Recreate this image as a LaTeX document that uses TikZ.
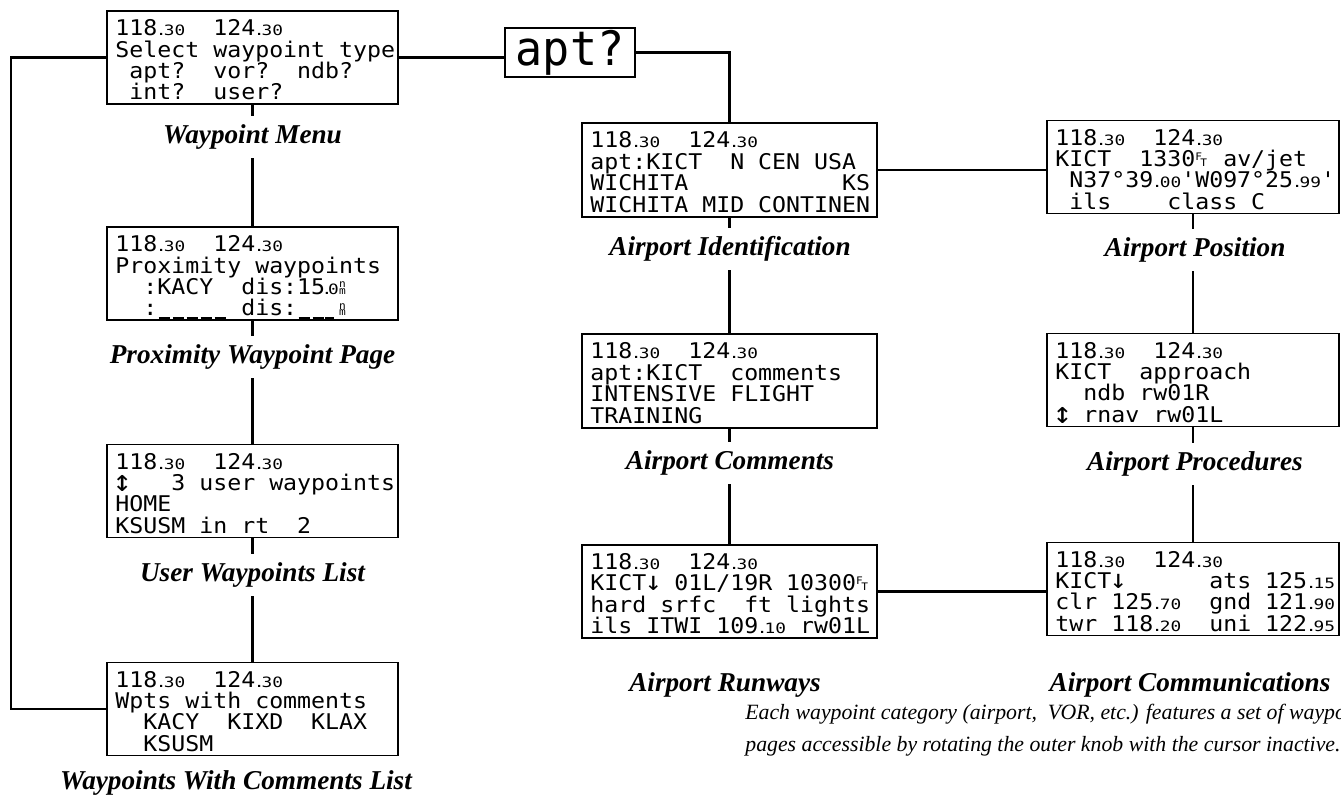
\documentclass[tikz,border=0pt]{standalone}
\usepackage{fontspec}
\setmainfont{Liberation Serif}
\newfontfamily\lcdfam[FakeStretch=1.075]{DejaVu Sans Mono}
\newfontfamily\lcdsfam[FakeStretch=1.25]{DejaVu Sans Mono}
\newfontfamily\lcdbfam[FakeStretch=0.95]{DejaVu Sans Mono}
\newcommand\lcd{\lcdfam\fontsize{12.3}{12.19}\selectfont}
\newcommand\lcds{\lcdsfam\fontsize{8.1}{8.5}\selectfont}
\newcommand\lcdt{\lcdfam\fontsize{5.9}{6}\selectfont}
\newlength\cw
\settowidth\cw{\lcd 0}
\newcommand\dd[1]{\makebox[2\cw][l]{\lcds\kern-0.1em.\kern-0.2em#1}}
\newcommand\dn[1]{\makebox[\cw][l]{\lcds\kern-0.25em.\kern-0.3em#1}}
\newcommand\ftu{\makebox[\cw][l]{\lcdt\raisebox{3.6pt}{F}\kern-0.15em T}}
\newcommand\nmu{\makebox[\cw][l]{\rlap{\lcdt\raisebox{3.8pt}{n}}\lcdt m}}
\newcommand\us{\makebox[\cw][c]{\rule[-1.8pt]{0.8\cw}{1.1pt}}}
\newcommand\uss{\makebox[\cw][l]{\rule[-1.8pt]{0.6\cw}{1.1pt}}}
\newcommand\udar{\makebox[\cw][c]{\fontsize{17}{12}\selectfont\lcdfam\raisebox{-0.5pt}{↕}}}
\newcommand\dnar{\makebox[\cw][c]{\fontsize{15}{12}\selectfont\lcdfam↓}}
\begin{document}
\begin{tikzpicture}[x=0.02cm,y=-0.02cm,
  box/.style={draw, line width=1.1pt, inner sep=0pt},
  lwide/.style={box, minimum width=5.82cm, minimum height=1.86cm},
  mwide/.style={box, minimum width=5.9cm, minimum height=1.87cm},
  rwide/.style={box, minimum width=5.84cm, minimum height=1.86cm},
  lcdtxt/.style={anchor=north west, inner sep=0pt, align=left, font=\lcd},
  lbl/.style={font=\fontsize{15.5}{18}\selectfont\bfseries\itshape, fill=white, inner xsep=3pt, inner ysep=5pt},
  captxt/.style={font=\fontsize{12.4}{14}\selectfont\itshape, inner sep=0pt, anchor=base west},
  conn/.style={line width=1.5pt}]
\useasboundingbox (0,0) rectangle (1341,803);

% boxes
\node[lwide] (menu) at (252.5,57.5) {};
\node[box, line width=1pt, minimum width=2.6cm, minimum height=0.98cm,
      font=\lcdbfam\fontsize{27}{30}\selectfont] (apt) at (570,52.5) {apt?};
\node[lwide] (prox) at (252.5,273.5) {};
\node[lwide] (user) at (252.5,491) {};
\node[lwide] (wpts) at (252.5,709) {};
\node[mwide] (aid) at (729.5,170) {};
\node[mwide] (cmt) at (729.5,381) {};
\node[mwide] (rwy) at (729.5,591.5) {};
\node[rwide] (pos) at (1193,167) {};
\node[rwide] (proc) at (1193,380) {};
\node[rwide] (comm) at (1193,589) {};

% screen texts
\node[lcdtxt] (menuT) at ([xshift=0.18cm,yshift=-0.184cm]menu.north west)
 {118\dd{30}~~124\dd{30}\\Select waypoint type\\~apt?~~vor?~~ndb?\\~int?~~user?};
\node[lcdtxt] (proxT) at ([xshift=0.18cm,yshift=-0.184cm]prox.north west)
 {118\dd{30}~~124\dd{30}\\Proximity waypoints\\~~:KACY~~dis:15\dn{0}\nmu\\~~:\us\us\us\us\us~dis:\us\us\uss\nmu};
\node[lcdtxt] (userT) at ([xshift=0.18cm,yshift=-0.184cm]user.north west)
 {118\dd{30}~~124\dd{30}\\\udar~~~3 user waypoints\\HOME\\KSUSM in rt~~2};
\node[lcdtxt] (wptsT) at ([xshift=0.18cm,yshift=-0.184cm]wpts.north west)
 {118\dd{30}~~124\dd{30}\\Wpts with comments\\~~KACY~~KIXD~~KLAX\\~~KSUSM};
\node[lcdtxt] (aidT) at ([xshift=0.18cm,yshift=-0.184cm]aid.north west)
 {118\dd{30}~~124\dd{30}\\apt:KICT~~N CEN USA\\WICHITA~~~~~~~~~~~KS\\WICHITA MID CONTINEN};
\node[lcdtxt] (cmtT) at ([xshift=0.18cm,yshift=-0.184cm]cmt.north west)
 {118\dd{30}~~124\dd{30}\\apt:KICT~~comments\\INTENSIVE FLIGHT\\TRAINING};
\node[lcdtxt] (rwyT) at ([xshift=0.18cm,yshift=-0.184cm]rwy.north west)
 {118\dd{30}~~124\dd{30}\\KICT\dnar{} 01L/19R 10300\ftu\\hard srfc~~ft lights\\ils ITWI 109\dd{10} rw01L};
\node[lcdtxt] (posT) at ([xshift=0.18cm,yshift=-0.184cm]pos.north west)
 {118\dd{30}~~124\dd{30}\\KICT~~1330\ftu~av/jet\\~N37°39\dd{00}'W097°25\dd{99}'\\~ils~~~~class C};
\node[lcdtxt] (procT) at ([xshift=0.18cm,yshift=-0.184cm]proc.north west)
 {118\dd{30}~~124\dd{30}\\KICT~~approach\\~~ndb rw01R\\\udar{} rnav rw01L};
\node[lcdtxt] (commT) at ([xshift=0.18cm,yshift=-0.184cm]comm.north west)
 {118\dd{30}~~124\dd{30}\\KICT\dnar~~~~~~ats 125\dd{15}\\clr 125\dd{70}~~gnd 121\dd{90}\\twr 118\dd{20}~~uni 122\dd{95}};

% connectors
\draw[conn] (menu.west) -- ++(-95,0) |- (wpts.west);
\draw[conn] (menu.east) -- (menu.east -| apt.west);
\draw[conn] (apt.east) -| (aid.north);
\draw[conn] (menu.south) -- (prox.north);
\draw[conn] (prox.south) -- (user.north);
\draw[conn] (user.south) -- (wpts.north);
\draw[conn] (aid.south) -- (cmt.north);
\draw[conn] (cmt.south) -- (rwy.north);
\draw[conn] (aid.east) -- (aid.east -| pos.west);
\draw[conn] (pos.south) -- (proc.north);
\draw[conn] (proc.south) -- (comm.north);
\draw[conn] (rwy.east) -- (rwy.east -| comm.west);

% labels
\node[lbl] (lmenu) at (252.5,137) {Waypoint Menu};
\node[lbl] (lprox) at (252.5,357) {Proximity Waypoint Page};
\node[lbl] (luser) at (252.5,575) {User Waypoints List};
\node[lbl] (lwpts) at (236,783) {Waypoints With Comments List};
\node[lbl] (laid) at (730,249) {Airport Identification};
\node[lbl] (lcmt) at (730,463) {Airport Comments};
\node[lbl] (lrwy) at (725,685) {Airport Runways};
\node[lbl] (lpos) at (1195,250) {Airport Position};
\node[lbl] (lproc) at (1195,464) {Airport Procedures};
\node[lbl] (lcomm) at (1190,685) {Airport Communications};

% caption
\begin{scope}
\clip (0,0) rectangle (1341,803);
\node[captxt] (cap1) at (745,719) {Each waypoint category (airport,~ VOR, etc.) features a set of waypoint};
\node[captxt] (cap2) at (745,751) {pages accessible by rotating the outer knob with the cursor inactive.};
\end{scope}
\end{tikzpicture}
\end{document}
